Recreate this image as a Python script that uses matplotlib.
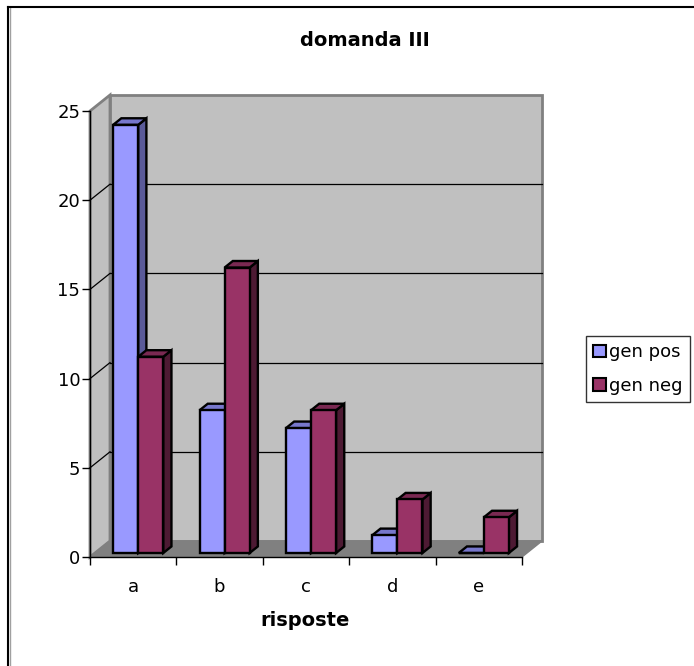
import numpy as np
import matplotlib
matplotlib.use("Agg")
import matplotlib.pyplot as plt
from matplotlib.patches import Polygon, Rectangle, Patch
from matplotlib.lines import Line2D

# datos
risposte = ["a", "b", "c", "d", "e"]
gen_pos = [24, 8, 7, 1, 0]
gen_neg = [11, 16, 8, 3, 2]
serie_nomi = ["gen pos", "gen neg"]
yticks = [0, 5, 10, 15, 20, 25]

# colores (frente, tapa, lado)
col_pos = ("#9999FF", "#7777CC", "#5A5A99")
col_neg = ("#993366", "#7A2952", "#4D1A33")
pared = "#C0C0C0"
suelo = "#808080"
borde_pared = "#808080"

plt.rcParams["font.size"] = 13

fig = plt.figure(figsize=(6.94, 6.66), dpi=100)
W, H = 694, 666
# plano frontal del grafico
ax = fig.add_axes([90 / W, (H - 557) / H, 432 / W, 446 / H])
n = len(risposte)
ymax = 25
ax.set_xlim(0, n)
ax.set_ylim(0, ymax)

# profundidad en unidades de datos
DX = 20 / (432 / n)
DY = 16 / (446 / ymax)

# paredes y suelo
ax.add_patch(Polygon([(0, 0), (0, ymax), (DX, ymax + DY), (DX, DY)], closed=True,
                     facecolor=pared, edgecolor=borde_pared, lw=2, clip_on=False, zorder=0))
ax.add_patch(Polygon([(DX, DY), (n + DX, DY), (n + DX, ymax + DY), (DX, ymax + DY)], closed=True,
                     facecolor=pared, edgecolor=borde_pared, lw=2, clip_on=False, zorder=0))
ax.add_patch(Polygon([(0, 0), (n, 0), (n + DX, DY), (DX, DY)], closed=True,
                     facecolor=suelo, edgecolor=suelo, lw=1, clip_on=False, zorder=0.5))

# lineas de cuadricula
for v in yticks[1:-1]:
    ax.plot([DX, n + DX], [v + DY, v + DY], color="black", lw=0.9, clip_on=False, zorder=1)
    ax.plot([0, DX], [v, v + DY], color="black", lw=0.9, clip_on=False, zorder=1)


def barra3d(x0, w, v, cols, f0=0.25, f1=0.66):
    fr, tp, sd = cols
    bx = x0 + f0 * DX
    by = f0 * DY
    ddx = (f1 - f0) * DX
    ddy = (f1 - f0) * DY
    ax.add_patch(Polygon([(bx + w, by), (bx + w + ddx, by + ddy), (bx + w + ddx, by + ddy + v), (bx + w, by + v)],
                         closed=True, facecolor=sd, edgecolor="black", lw=1.7, clip_on=False, zorder=2))
    ax.add_patch(Polygon([(bx, by + v), (bx + w, by + v), (bx + w + ddx, by + ddy + v), (bx + ddx, by + ddy + v)],
                         closed=True, facecolor=tp, edgecolor="black", lw=1.7, clip_on=False, zorder=2))
    ax.add_patch(Rectangle((bx, by), w, v, facecolor=fr, edgecolor="black", lw=1.7,
                           clip_on=False, zorder=2))


ancho = 0.29
for i in range(n):
    barra3d(i + 0.5 - ancho, ancho, gen_pos[i], col_pos)
    barra3d(i + 0.5, ancho, gen_neg[i], col_neg)

# ejes
for s in ["top", "right"]:
    ax.spines[s].set_visible(False)
for s in ["left", "bottom"]:
    ax.spines[s].set_color("black")
    ax.spines[s].set_linewidth(1)
    ax.spines[s].set_zorder(3)
ax.set_facecolor("none")
ax.set_yticks(yticks)
ax.set_xticks(np.arange(n + 1))
ax.set_xticklabels([])
ax.set_xticks(np.arange(n) + 0.5, minor=True)
ax.set_xticklabels(risposte, minor=True)
ax.tick_params(axis="x", which="major", length=6, width=1, direction="out")
ax.tick_params(axis="x", which="minor", length=0, pad=15)
ax.tick_params(axis="y", length=6, width=1, direction="out", pad=1)

fig.text(365 / W, 1 - 40 / H, "domanda III", ha="center", va="center", fontweight="bold", fontsize=14)
fig.text(305 / W, 1 - 620 / H, "risposte", ha="center", va="center", fontweight="bold", fontsize=14)

# leyenda
maniglie = [Patch(facecolor=col_pos[0], edgecolor="black", lw=1.5),
            Patch(facecolor=col_neg[0], edgecolor="black", lw=1.5)]
leg = fig.legend(maniglie, serie_nomi, loc="center left", bbox_to_anchor=(586 / W, 1 - 369 / H),
                 bbox_transform=fig.transFigure, frameon=True, fancybox=False, shadow=False,
                 handlelength=0.7, handleheight=0.7, handletextpad=0.2, borderpad=0.4,
                 labelspacing=0.85, borderaxespad=0)
leg.get_frame().set_edgecolor("black")
leg.get_frame().set_linewidth(1)

# bordo del grafico
fig.add_artist(Line2D([9.5 / W, 9.5 / W], [0, 1 - 8 / H], color="#A0A0A0", lw=1))
fig.add_artist(Line2D([8 / W, 8 / W], [0, 1 - 7 / H], color="black", lw=1.5))
fig.add_artist(Line2D([8 / W, 1], [1 - 7 / H, 1 - 7 / H], color="black", lw=1.5))

fig.savefig("out.png", dpi=100)
